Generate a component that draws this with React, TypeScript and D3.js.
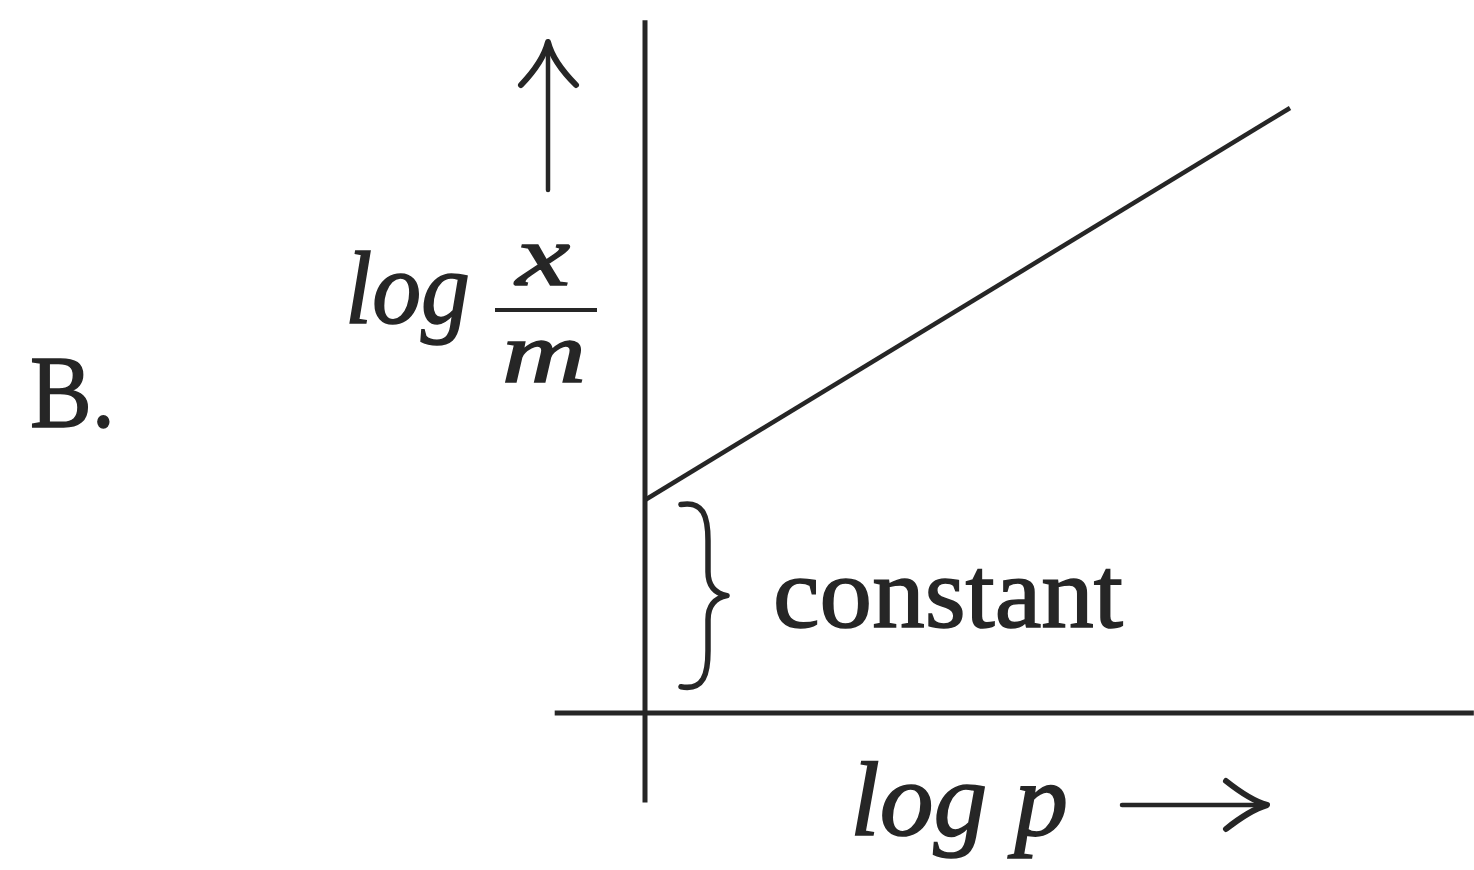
import React from 'react';
import * as d3 from 'd3';

// constants
const width = 1474;
const height = 870;

// data (schematic units)
const logP = [0, 1];
const logXM = [0.352, 1];
const xAxisExtent = [-0.14, 1.285];
const yAxisExtent = [-0.148, 1.145];
const braceSpan = [0.04, 0.348];

// labels
const panelLabel = 'B.';
const xLabel = 'log p';
const yLabelLog = 'log';
const yLabelNum = 'x';
const yLabelDen = 'm';
const braceLabel = 'constant';

const ink = '#262626';
const serif = '"Liberation Serif", "Times New Roman", serif';

const App = () => {
  // scales
  const xScale = d3.scaleLinear().domain([0, 1]).range([645, 1290]);
  const yScale = d3.scaleLinear().domain([0, 1]).range([713, 108]);

  const line = d3.line<[number, number]>()
    .x(d => xScale(d[0]))
    .y(d => yScale(d[1]));
  const linePts: [number, number][] = logP.map((p, i) => [p, logXM[i]]);

  // curly brace between the axis and the intercept
  const top = yScale(braceSpan[1]);
  const bot = yScale(braceSpan[0]);
  const mid = (top + bot) / 2;
  const x0 = 681, x1 = 708, x2 = 727;
  const brace = `M${x0},${top + 2} C${x1 - 4},${top - 2} ${x1},${top + 15} ${x1},${top + 38}
    L${x1},${mid - 24} C${x1},${mid - 8} ${x2 - 10},${mid - 2} ${x2},${mid}
    C${x2 - 10},${mid + 2} ${x1},${mid + 8} ${x1},${mid + 24}
    L${x1},${bot - 38} C${x1},${bot - 15} ${x1 - 4},${bot + 2} ${x0},${bot - 2}`;

  // slightly heavier glyphs, like the scanned original
  const textStyle = { fill: ink, stroke: ink, strokeWidth: 1.6 };

  return (
    <svg width={width} height={height} style={{ position: 'absolute', left: 0, top: 0, background: '#fff' }}>
      {/* axes */}
      <line x1={xScale(xAxisExtent[0])} x2={xScale(xAxisExtent[1])} y1={yScale(0)} y2={yScale(0)}
        stroke={ink} strokeWidth={5} />
      <line x1={xScale(0)} x2={xScale(0)} y1={yScale(yAxisExtent[0])} y2={yScale(yAxisExtent[1])}
        stroke={ink} strokeWidth={5} />

      {/* straight line */}
      <path d={line(linePts) || ''} fill="none" stroke={ink} strokeWidth={4.5} />

      {/* brace */}
      <path d={brace} fill="none" stroke={ink} strokeWidth={5.5} strokeLinecap="round" strokeLinejoin="round" />
      <text x={773} y={627} fontFamily={serif} fontSize={102} {...textStyle}
        textLength={350} lengthAdjust="spacingAndGlyphs">{braceLabel}</text>

      {/* x label + arrow */}
      <text x={850} y={835} fontFamily={serif} fontStyle="italic" fontSize={106} {...textStyle}
        textLength={218} lengthAdjust="spacingAndGlyphs">{xLabel}</text>
      <g stroke={ink} strokeWidth={4.5} fill="none" strokeLinecap="round" strokeLinejoin="round">
        <line x1={1122} x2={1266} y1={805} y2={805} />
        <path d="M1226,781 Q1250,800 1267,805 Q1250,810 1226,829" strokeWidth={6} />
      </g>

      {/* y label + arrow */}
      <g stroke={ink} strokeWidth={4.5} fill="none" strokeLinecap="round" strokeLinejoin="round">
        <line x1={548} x2={548} y1={190} y2={44} />
        <path d="M521,85 Q543,62 548,42 Q553,62 576,85" strokeWidth={6} />
      </g>
      <text x={345} y={323} fontFamily={serif} fontStyle="italic" fontSize={104} {...textStyle}
        textLength={125} lengthAdjust="spacingAndGlyphs">{yLabelLog}</text>
      <text x={516} y={285} fontFamily={serif} fontStyle="italic" fontSize={86} {...textStyle}
        textLength={54} lengthAdjust="spacingAndGlyphs">{yLabelNum}</text>
      <line x1={495} x2={597} y1={310} y2={310} stroke={ink} strokeWidth={4} />
      <text x={502} y={382} fontFamily={serif} fontStyle="italic" fontSize={86} {...textStyle}
        textLength={84} lengthAdjust="spacingAndGlyphs">{yLabelDen}</text>

      {/* panel label */}
      <text x={30} y={427} fontFamily={serif} fontSize={104} {...textStyle}
        textLength={85} lengthAdjust="spacingAndGlyphs">{panelLabel}</text>
    </svg>
  );
};

export default App;
